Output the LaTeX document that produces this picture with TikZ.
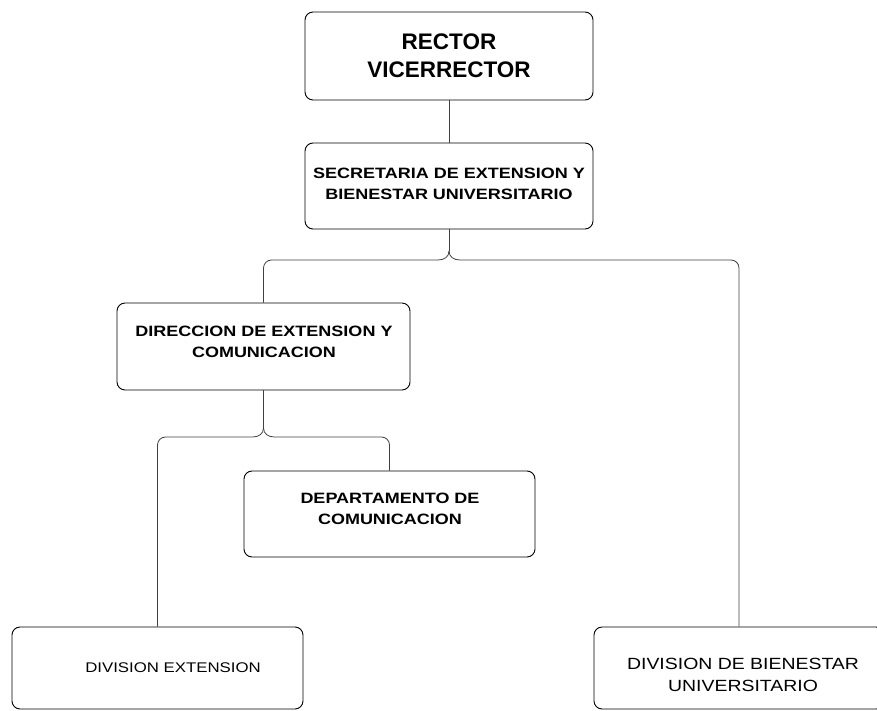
\documentclass[tikz,border=0pt]{standalone}
\usepackage{fontspec}
\setmainfont{Liberation Sans}
\newfontfamily\widefont[FakeStretch=1.2]{Liberation Sans}
\begin{document}
\begin{tikzpicture}[x=1pt,y=-1pt,
  box/.style={draw=black, line width=0.9pt, rounded corners=8pt, inner sep=0pt},
  conn/.style={draw=black!75, line width=0.8pt},
  bigtext/.style={align=center, font=\bfseries\fontsize{22.5}{28}\selectfont},
  lbl/.style={align=center, font=\widefont\bfseries\fontsize{15}{21}\selectfont},
  lblreg/.style={align=center, font=\widefont\fontsize{#1}{22}\selectfont},
  lblreg/.default=15]
\useasboundingbox (0,0) rectangle (877,711);
\clip (0,0) rectangle (877,711);

% boxes
\node[box, minimum width=288, minimum height=88] (rector) at (449,56) {};
\node[box, minimum width=288, minimum height=86] (sec) at (449,186) {};
\node[box, minimum width=293, minimum height=87] (dir) at (263.5,346.5) {};
\node[box, minimum width=291, minimum height=86] (dep) at (389.5,514) {};
\node[box, minimum width=291, minimum height=82] (divext) at (157.5,668) {};
\node[box, minimum width=290, minimum height=82] (divbien) at (739,668) {};

% texts
\node[bigtext] (trector) at (449,56) {RECTOR\\VICERRECTOR};
\node[lbl] (tsec) at (449,184) {SECRETARIA DE EXTENSION Y\\BIENESTAR UNIVERSITARIO};
\node[lbl] (tdir) at (264,342) {DIRECCION DE EXTENSION Y\\COMUNICACION};
\node[lbl] (tdep) at (390,509) {DEPARTAMENTO DE\\COMUNICACION};
\node[lblreg=14] (tdivext) at (173,668) {DIVISION EXTENSION};
\node[lblreg=16.2] (tdivbien) at (743,675) {DIVISION DE BIENESTAR\\UNIVERSITARIO};

% connectors
\draw[conn] (rector.south) -- (sec.north);

\coordinate (tipA) at (449,251);
\draw[conn] (sec.south) -- (tipA);
\draw[conn] (tipA) .. controls (449,257) and (444,260) .. (438,260)
  [rounded corners=8pt] -- (263.5,260) -- (dir.north);
\draw[conn] (tipA) .. controls (449,257) and (454,260) .. (460,260)
  [rounded corners=8pt] -- (739,260) -- (divbien.north);

\coordinate (tipB) at (263.5,428);
\draw[conn] (dir.south) -- (tipB);
\draw[conn] (tipB) .. controls (263.5,434) and (258.5,437) .. (252.5,437)
  [rounded corners=8pt] -- (157.5,437) -- (divext.north);
\draw[conn] (tipB) .. controls (263.5,434) and (268.5,437) .. (274.5,437)
  [rounded corners=8pt] -- (389.5,437) -- (dep.north);
\end{tikzpicture}
\end{document}
